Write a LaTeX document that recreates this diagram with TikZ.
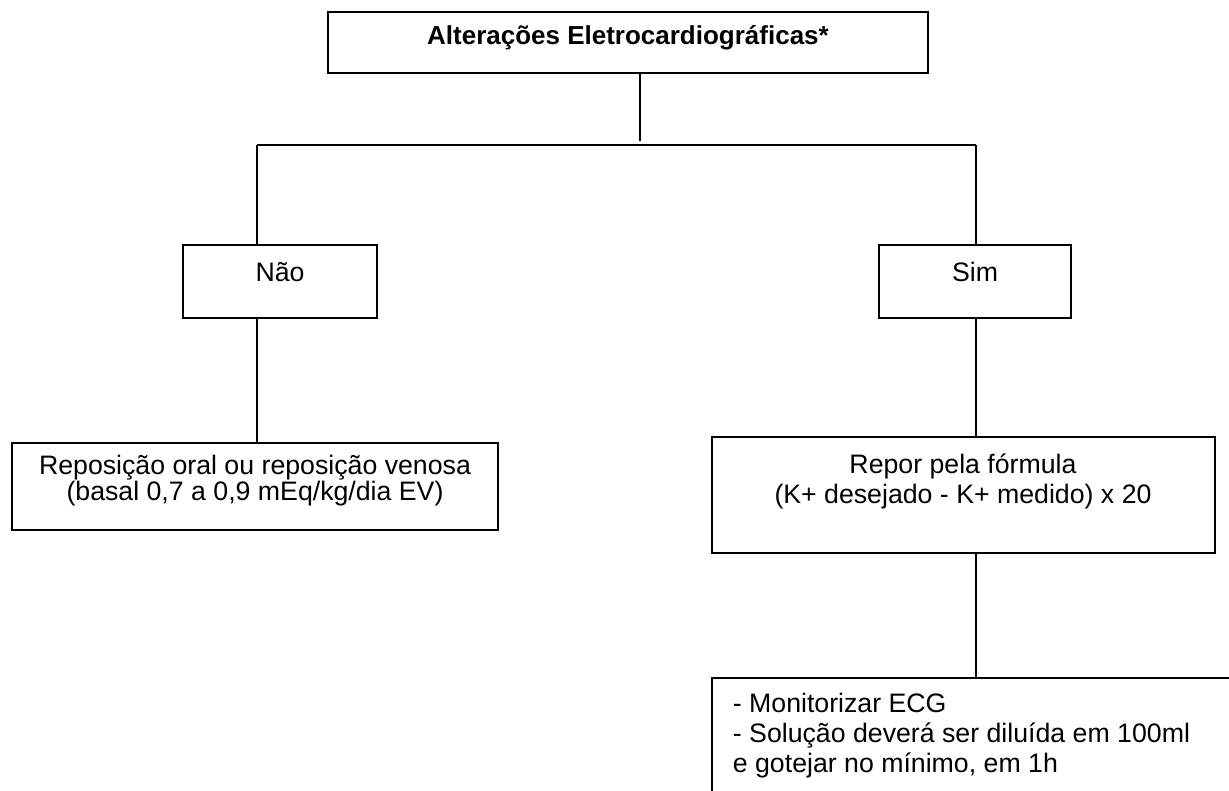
\documentclass[tikz,border=0pt]{standalone}
\usepackage{fontspec}
\setmainfont{Liberation Sans}
\begin{document}
\begin{tikzpicture}[x=1pt,y=-1pt,
  line width=1.8pt,
  box/.style={draw=black, line width=1.8pt, rectangle, inner sep=0pt},
  lbl/.style={inner sep=0pt, anchor=base, align=center},
  conn/.style={draw=black, line width=1.8pt}]
\clip (0,0) rectangle (1229,790);
\fill[white] (0,0) rectangle (1229,790);
% boxes
\node[box, minimum width=600pt, minimum height=61pt] (title) at (628,42.5) {};
\node[box, minimum width=194pt, minimum height=73pt] (nao) at (280,281.5) {};
\node[box, minimum width=192pt, minimum height=73pt] (sim) at (975,281.5) {};
\node[box, minimum width=486pt, minimum height=87pt] (repo) at (255,486.5) {};
\node[box, minimum width=503pt, minimum height=116pt] (repor) at (963.5,495) {};
\node[box, anchor=north west, minimum width=600pt, minimum height=200pt] (monit) at (711,677) {};
% texts (base anchor = baseline of the last line)
\node[lbl, font=\fontsize{26}{30}\selectfont\bfseries] (titlet) at (628,44) {Alterações Eletrocardiográficas*};
\node[lbl, font=\fontsize{26.7}{30}\selectfont] (naot) at (280,281) {Não};
\node[lbl, font=\fontsize{26.7}{30}\selectfont] (simt) at (975,281) {Sim};
\node[lbl, font=\fontsize{26.7}{26}\selectfont] (repot) at (255,500) {Reposição oral ou reposição venosa\\(basal 0,7 a 0,9 mEq/kg/dia EV)};
\node[lbl, font=\fontsize{26.7}{30}\selectfont] (report) at (963,503) {Repor pela fórmula\\(K+ desejado - K+ medido) x 20};
\node[inner sep=0pt, align=left, anchor=base west, font=\fontsize{26.7}{30}\selectfont] (monitt) at (732,772) {- Monitorizar ECG\\- Solução deverá ser diluída em 100ml\\e gotejar no mínimo, em 1h};
% connectors
\coordinate (j) at (640,145);
\coordinate (jl) at (257,145);
\coordinate (jr) at (976,145);
\draw[conn] (j |- title.south) -- ([yshift=4pt]j);
\draw[conn] (jl) -- (jr);
\draw[conn] (jl) -- (jl |- nao.north);
\draw[conn] (jr) -- (jr |- sim.north);
\draw[conn] (jl |- nao.south) -- (jl |- repo.north);
\draw[conn] (jr |- sim.south) -- (jr |- repor.north);
\draw[conn] (jr |- repor.south) -- (jr |- monit.north);
\end{tikzpicture}
\end{document}
